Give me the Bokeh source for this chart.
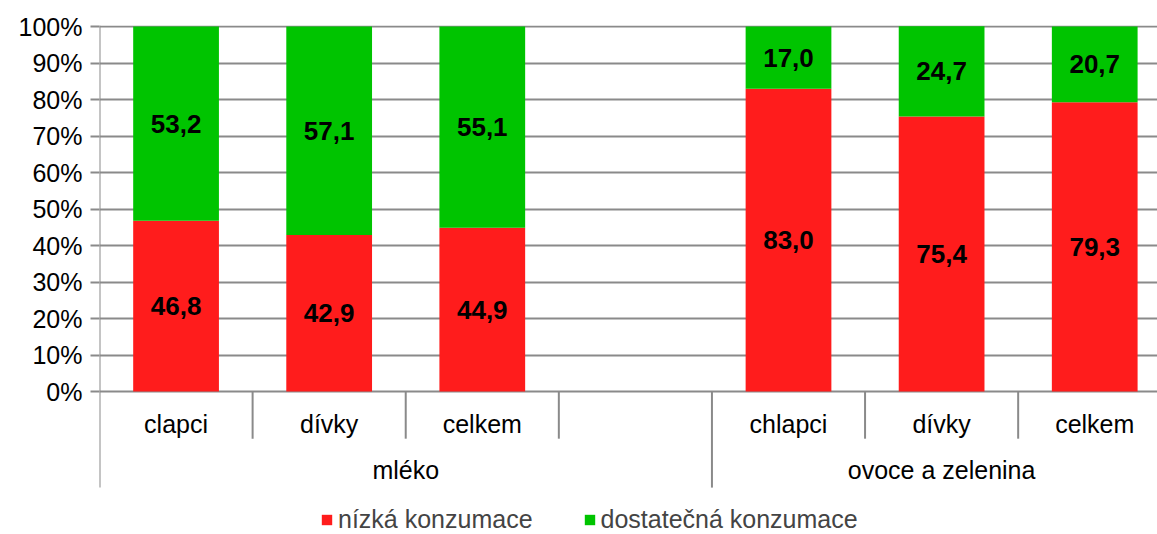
from bokeh.plotting import figure
from bokeh.models import (Range1d, FixedTicker, PrintfTickFormatter, Legend, LegendItem,
                          ColumnDataSource)
from bokeh.core.properties import value
from bokeh.embed import file_html
from bokeh.resources import INLINE

# ---- data ----
categories = ["clapci", "dívky", "celkem", "", "chlapci", "dívky", "celkem"]
groups = ["mléko", "ovoce a zelenina"]
group_sizes = [4, 3]
low = [46.8, 42.9, 44.9, None, 83.0, 75.4, 79.3]        # nízká konzumace
enough = [53.2, 57.1, 55.1, None, 17.0, 24.7, 20.7]     # dostatečná konzumace
series_names = ["nízká konzumace", "dostatečná konzumace"]
y_ticks = [0, 10, 20, 30, 40, 50, 60, 70, 80, 90, 100]

RED = "#FF1C1C"
GREEN = "#00C400"
GRID = "#8A8A8A"
FONT = "Liberation Sans"
FS = "25px"

p = figure(width=1157, height=534, output_backend="svg", toolbar_location=None,
           x_range=Range1d(0, 6.91), y_range=Range1d(-39.15, 100.3),
           min_border_left=99, min_border_right=0, min_border_top=25, min_border_bottom=0)
p.outline_line_color = None
p.background_fill_color = "white"
p.xaxis.visible = False
p.xgrid.visible = False

# y axis
p.yaxis.ticker = FixedTicker(ticks=y_ticks)
p.yaxis.formatter = PrintfTickFormatter(format="%d%%")
p.yaxis.axis_line_color = None
p.yaxis.major_tick_line_color = GRID
p.yaxis.major_tick_line_width = 2
p.yaxis.major_tick_out = 9
p.yaxis.major_tick_in = 0
p.yaxis.minor_tick_line_color = None
p.yaxis.major_label_standoff = 8
p.yaxis.major_label_text_font = FONT
p.yaxis.major_label_text_font_size = FS
p.yaxis.major_label_text_color = "black"
p.ygrid.ticker = FixedTicker(ticks=y_ticks)
p.ygrid.grid_line_color = GRID
p.ygrid.grid_line_width = 2

# bars
xs, lows, tops_e, bots_e = [], [], [], []
for i, (a, b) in enumerate(zip(low, enough)):
    if a is None:
        continue
    xs.append(i + 0.5)
    lows.append(a)
    bots_e.append(a)
    tops_e.append(a + b)
src = ColumnDataSource(dict(x=xs, low=lows, eb=bots_e, et=tops_e,
                            zero=[0] * len(xs)))
r_red = p.vbar(x="x", width=0.56, bottom="zero", top="low", source=src,
               fill_color=RED, line_color=None)
r_green = p.vbar(x="x", width=0.56, bottom="eb", top="et", source=src,
                 fill_color=GREEN, line_color=None)

# data labels
lx, ly, lt = [], [], []
for i, (a, b) in enumerate(zip(low, enough)):
    if a is None:
        continue
    lx += [i + 0.5, i + 0.5]
    ly += [a / 2, a + b / 2]
    lt += [f"{a:.1f}".replace(".", ","), f"{b:.1f}".replace(".", ",")]
p.text(x=lx, y=ly, text=lt, text_font=value(FONT), text_font_size=value("26px"),
       text_font_style="bold", text_color="black", text_align="center",
       text_baseline="middle")

# hierarchical category axis drawn in the extended frame
CAT_Y = -9.0
GRP_Y = -21.6
SHORT = -12.9
LONG = -26.3
p.text(x=[i + 0.5 for i in range(len(categories))], y=[CAT_Y] * len(categories),
       text=categories, text_font=value(FONT), text_font_size=value(FS),
       text_color="black", text_align="center", text_baseline="middle")
gx, start = [], 0
bounds = [0]
for s in group_sizes:
    gx.append(start + s / 2)
    start += s
    bounds.append(start)
p.text(x=gx, y=[GRP_Y] * len(groups), text=groups, text_font=value(FONT),
       text_font_size=value(FS), text_color="black", text_align="center",
       text_baseline="middle")

seg_x, seg_y0, seg_y1 = [], [], []
for b in range(len(categories) + 1):
    if b == 0:
        seg_x.append(b); seg_y0.append(100.3); seg_y1.append(LONG)
    elif b in bounds:
        seg_x.append(b); seg_y0.append(0); seg_y1.append(LONG)
    else:
        seg_x.append(b); seg_y0.append(0); seg_y1.append(SHORT)
p.segment(x0=seg_x, x1=seg_x, y0=seg_y0, y1=seg_y1, line_color=GRID, line_width=2)

legend = Legend(items=[LegendItem(label=series_names[0], renderers=[r_red]),
                       LegendItem(label=series_names[1], renderers=[r_green])],
                orientation="horizontal", location=(221, 0),
                border_line_color=None, background_fill_alpha=0,
                padding=0, margin=0, spacing=50, label_standoff=5,
                glyph_width=13, glyph_height=13,
                label_text_font=FONT, label_text_font_size=FS)
p.add_layout(legend)

open("out.html", "w").write(file_html(p, INLINE))
